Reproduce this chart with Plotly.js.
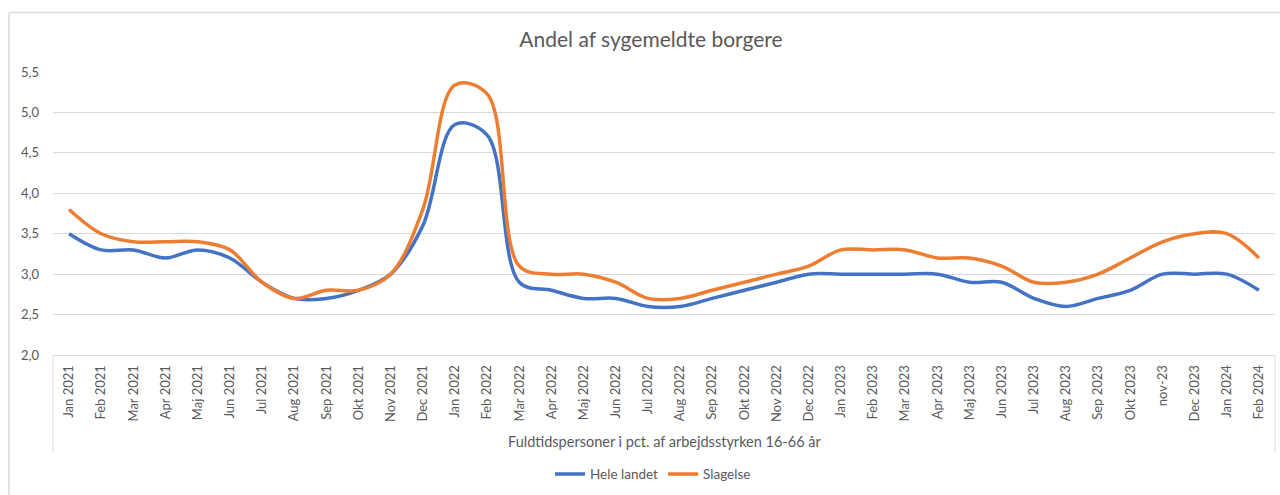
<!DOCTYPE html>
<html>
<head>
<meta charset="utf-8">
<script src="https://cdn.plot.ly/plotly-3.0.1.min.js"></script>
<style>html,body{margin:0;padding:0;background:#fff;}#chart{width:1280px;height:495px;}</style>
</head>
<body>
<div id="chart"></div>
<script>
const months = ["Jan 2021","Feb 2021","Mar 2021","Apr 2021","Maj 2021","Jun 2021","Jul 2021","Aug 2021","Sep 2021","Okt 2021","Nov 2021","Dec 2021",
"Jan 2022","Feb 2022","Mar 2022","Apr 2022","Maj 2022","Jun 2022","Jul 2022","Aug 2022","Sep 2022","Okt 2022","Nov 2022","Dec 2022",
"Jan 2023","Feb 2023","Mar 2023","Apr 2023","Maj 2023","Jun 2023","Jul 2023","Aug 2023","Sep 2023","Okt 2023","nov-23","Dec 2023",
"Jan 2024","Feb 2024"];
const heleLandet = [3.5,3.3,3.3,3.2,3.3,3.2,2.9,2.7,2.7,2.8,3.0,3.6,
4.85,4.72,2.9,2.8,2.7,2.7,2.6,2.6,2.7,2.8,2.9,3.0,
3.0,3.0,3.0,3.0,2.9,2.9,2.7,2.6,2.7,2.8,3.0,3.0,
3.0,2.8];
const slagelse = [3.8,3.5,3.4,3.4,3.4,3.3,2.9,2.7,2.8,2.8,3.0,3.8,
5.34,5.23,3.1,3.0,3.0,2.9,2.7,2.7,2.8,2.9,3.0,3.1,
3.3,3.3,3.3,3.2,3.2,3.1,2.9,2.9,3.0,3.2,3.4,3.5,
3.5,3.2];
const chartTitle = "Andel af sygemeldte borgere";
const xTitle = "Fuldtidspersoner i pct. af arbejdsstyrken 16-66 år";
const seriesNames = ["Hele landet","Slagelse"];

const FONT = "Lato, 'Open Sans', sans-serif";
const GREY = "#595959";
const LINE = "#d9d9d9";

// pixel helpers for paper coordinates
const L = 53, R = 1275, T = 72, B = 357;
const px = p => (p - L) / (R - L);
const py = q => (B - q) / (B - T);

const traces = [
  {x: months, y: heleLandet, name: seriesNames[0], type: "scatter", mode: "lines",
   line: {color: "#4472C4", width: 3.5, shape: "spline", smoothing: 1}},
  {x: months, y: slagelse, name: seriesNames[1], type: "scatter", mode: "lines",
   line: {color: "#ED7D31", width: 3.5, shape: "spline", smoothing: 1}}
];

const layout = {
  width: 1280, height: 495,
  margin: {l: L, r: 1280 - R, t: T, b: 495 - B},
  paper_bgcolor: "#fff", plot_bgcolor: "#fff",
  separators: ",.",
  font: {family: FONT, color: GREY, size: 13},
  title: {text: chartTitle, font: {family: FONT, size: 21, color: GREY},
          x: 651/1280, xanchor: "center", y: 1 - 40/495, yanchor: "middle", xref: "container", yref: "container"},
  xaxis: {type: "category", range: [-0.5, months.length - 0.5], tickangle: -90,
          showgrid: false, showline: true, linecolor: LINE, linewidth: 1,
          ticks: "", tickfont: {family: FONT, size: 13, color: GREY}, ticklabelstandoff: 4,
          fixedrange: true},
  yaxis: {range: [2.0, 5.5], dtick: 0.5, tick0: 2.0, tickformat: ".1f",
          showgrid: true, gridcolor: LINE, gridwidth: 1, zeroline: false, showline: false,
          ticks: "", tickfont: {family: FONT, size: 13, color: GREY}, ticklabelstandoff: 13,
          fixedrange: true},
  showlegend: true,
  legend: {orientation: "h", x: px(653), xanchor: "center", y: py(477), yanchor: "middle",
           font: {family: FONT, size: 13.5, color: GREY}, bgcolor: "rgba(0,0,0,0)", traceorder: "normal",
           itemwidth: 30},
  annotations: [
    {text: xTitle, xref: "paper", yref: "paper", x: px(664), y: py(444), xanchor: "center", yanchor: "middle",
     showarrow: false, font: {family: FONT, size: 14.5, color: GREY}}
  ],
  shapes: [
    {type: "line", xref: "paper", yref: "paper", x0: px(53), x1: px(53), y0: py(357), y1: py(455), line: {color: LINE, width: 1}},
    {type: "line", xref: "paper", yref: "paper", x0: px(1275), x1: px(1275), y0: py(357), y1: py(455), line: {color: LINE, width: 1}},
    {type: "line", xref: "paper", yref: "paper", x0: px(9), x1: px(9), y0: py(12), y1: py(500), line: {color: LINE, width: 1.5}},
    {type: "line", xref: "paper", yref: "paper", x0: px(9), x1: px(1290), y0: py(12), y1: py(12), line: {color: LINE, width: 1.5}}
  ]
};

Plotly.newPlot("chart", traces, layout, {displayModeBar: false, staticPlot: true});
</script>
</body>
</html>
